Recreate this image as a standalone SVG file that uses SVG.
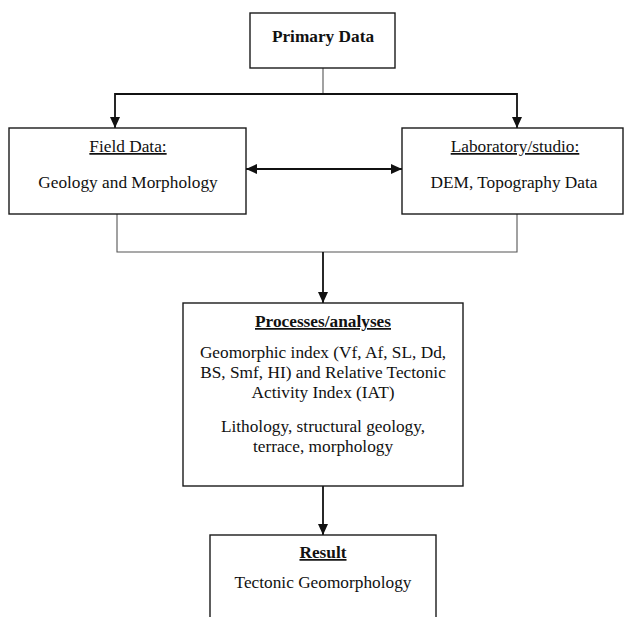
<svg xmlns="http://www.w3.org/2000/svg" width="627" height="617" viewBox="0 0 627 617">
<style>
.box{fill:#fff;stroke:#1a1a1a;stroke-width:1.4}
.t{font-family:"Liberation Serif","Times New Roman",serif;font-size:17.3px;fill:#111;text-anchor:middle}
.b{font-weight:bold}
.u{text-decoration:underline}
.thin{fill:none;stroke:#555;stroke-width:1.1}
.arr{fill:none;stroke:#111;stroke-width:1.8}
</style>
<defs>
<marker id="ah" markerUnits="userSpaceOnUse" markerWidth="11" markerHeight="10" refX="11" refY="5" orient="auto-start-reverse">
<path d="M0,0 L11,5 L0,10 z" fill="#111"/>
</marker>
</defs>
<rect width="627" height="617" fill="#fff"/>
<g id="connectors">
<path class="thin" d="M323,68 V94"/>
<path class="arr" d="M323,94 H115 V128" marker-end="url(#ah)"/>
<path class="arr" d="M323,94 H517 V128" marker-end="url(#ah)"/>
<path class="arr" d="M246,169 H402" marker-start="url(#ah)" marker-end="url(#ah)"/>
<path class="thin" d="M117,214 V252 H517 V214"/>
<path class="arr" d="M323,252 V303" marker-end="url(#ah)"/>
<path class="arr" d="M323,486 V535" marker-end="url(#ah)"/>
</g>
<g id="primary">
<rect class="box" x="250" y="13" width="145" height="55"/>
<text class="t b" x="323" y="42">Primary Data</text>
</g>
<g id="field">
<rect class="box" x="9" y="128" width="237" height="86"/>
<text class="t u" x="128" y="152">Field Data:</text>
<text class="t" x="128" y="188">Geology and Morphology</text>
</g>
<g id="lab">
<rect class="box" x="402" y="128" width="221" height="86"/>
<text class="t u" x="515" y="152">Laboratory/studio:</text>
<text class="t" x="514" y="188">DEM, Topography Data</text>
</g>
<g id="processes">
<rect class="box" x="183" y="303" width="280" height="183"/>
<text class="t b u" x="323" y="327">Processes/analyses</text>
<text class="t" x="323" y="358">Geomorphic index (Vf, Af, SL, Dd,</text>
<text class="t" x="323" y="378">BS, Smf, HI) and Relative Tectonic</text>
<text class="t" x="323" y="398">Activity Index (IAT)</text>
<text class="t" x="323" y="432">Lithology, structural geology,</text>
<text class="t" x="323" y="452">terrace, morphology</text>
</g>
<g id="result">
<rect class="box" x="210" y="535" width="226" height="100"/>
<text class="t b u" x="323" y="558">Result</text>
<text class="t" x="323" y="588">Tectonic Geomorphology</text>
</g>
</svg>
